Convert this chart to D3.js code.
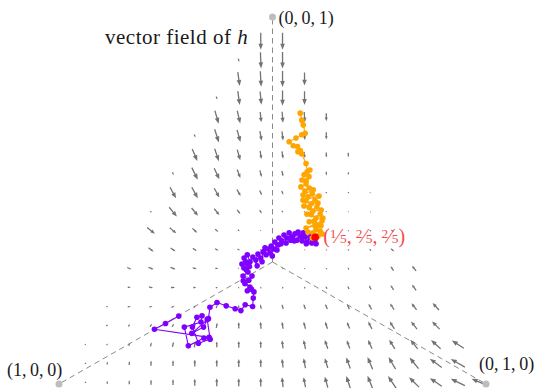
<!DOCTYPE html>
<html>
<head>
<meta charset="utf-8">
<script src="https://cdn.jsdelivr.net/npm/d3@7/dist/d3.min.js"></script>
<style>
  html, body { margin: 0; background: #fff; }
</style>
</head>
<body>
<svg id="chart" width="536" height="388" font-family="'Liberation Serif', 'Times New Roman', 'DejaVu Serif', serif"></svg>
<script>
// vertices of the simplex
const vertexPoints = [[1, 0, 0], [0, 1, 0], [0, 0, 1]];
const vertexLabels = ["(1,\u20090,\u20090)", "(0,\u20091,\u20090)", "(0,\u20090,\u20091)"];
const fixedPoint = [0.2, 0.4, 0.4];
const fixedLabel = [["1", "5"], ["2", "5"], ["2", "5"]];

// grid where h is sampled: columns u = p2 - p1, rows p3
const gridU = [-0.876, -0.774, -0.671, -0.569, -0.466, -0.364, -0.261, -0.158, -0.055, 0.047,
  0.150, 0.252, 0.355, 0.457, 0.560, 0.663, 0.765, 0.868, 0.970];
const gridC = [0.005, 0.057, 0.108, 0.160, 0.211, 0.263, 0.315, 0.366, 0.418, 0.469,
  0.521, 0.573, 0.624, 0.676, 0.727, 0.779, 0.831, 0.882, 0.934];

// h along each row: first column, then (h_u, h_3) in units of 0.001
const rowStart = [0, 0, 0, 1, 1, 2, 2, 3, 3, 3, 4, 4, 5, 5, 6, 6, 7, 7, 8];
const fieldRows = [
  [[0,5],[0,8],[0,11],[0,14],[0,16],[0,19],[0,22],[0,22],[0,24],[-5,27],[-9,27],[-14,30],[-19,33],[-24,35],[-38,33],[-47,27],[-56,22],[-66,19],[-75,19]],
  [[0,5],[0,8],[0,11],[0,14],[0,16],[0,19],[0,19],[0,22],[0,22],[-5,24],[-9,27],[-14,27],[-19,30],[-24,33],[-33,33],[-42,30],[-56,24],[-66,22]],
  [[5,3],[5,5],[5,8],[5,11],[5,14],[5,16],[0,16],[0,19],[0,19],[-5,22],[-9,24],[-14,24],[-14,22],[-19,24],[-26,25],[-34,25],[-45,24],[-56,21]],
  [[9,3],[9,5],[9,8],[9,8],[9,11],[5,14],[0,18],[-3,19],[-5,19],[-9,19],[-11,19],[-12,18],[-17,20],[-22,20],[-28,21],[-35,21]],
  [[9,0],[14,3],[14,3],[14,5],[9,5],[5,8],[0,10],[-5,12],[-6,13],[-8,14],[-9,14],[-10,14],[-14,16],[-19,17],[-24,18],[-30,19]],
  [[14,-3],[19,-3],[19,0],[14,0],[9,3],[5,3],[-3,5],[-4,5],[-5,5],[-7,7],[-7,8],[-10,11],[-14,13],[-19,16]],
  [[19,-5],[24,-5],[24,-5],[19,-3],[14,0],[5,0],[0,2],[-3,3],[-4,3],[-4,4],[-5,5],[-9,8],[-14,12],[-19,14]],
  [[24,-11],[22,-9],[18,-7],[16,-5],[12,-3],[5,0],[0,0],[-3,2],[-4,3],[-6,4],[-9,5],[-14,8]],
  [[36,-17],[30,-15],[22,-12],[15,-8],[8,-4],[4,-2],[2,0],[0,0],[-3,1],[-5,2],[-8,3],[-12,5]],
  [[5,-5],[36,-25],[30,-21],[24,-17],[15,-11],[10,-9],[6,-5],[3,-3],[0,-3],[-3,-2],[-5,0]],
  [[28,-30],[28,-30],[24,-25],[17,-18],[10,-13],[7,-10],[4,-7],[0,-5],[-3,-4],[-4,-2]],
  [[5,-8],[28,-33],[24,-30],[15,-23],[8,-18],[6,-15],[4,-12],[0,-10],[-3,-7]],
  [[24,-33],[20,-34],[14,-29],[6,-22],[5,-20],[4,-17],[0,-14],[0,-12]],
  [[5,-8],[20,-36],[16,-33],[8,-26],[5,-25],[4,-22],[0,-20]],
  [[18,-36],[14,-35],[5,-28],[4,-30],[3,-28],[0,-22]],
  [[5,-8],[9,-38],[6,-36],[0,-42],[0,-38]],
  [[9,-38],[4,-42],[0,-44],[0,-35]],
  [[5,-8],[3,-44],[0,-45]],
  [[0,-46],[0,-46]]
];

// sample paths as (p2, p3); p1 = 1 - p2 - p3
const purpleWalk = [
  [0.188,0.185],[0.167,0.165],[0.149,0.149],[0.288,0.127],[0.277,0.125],[0.251,0.104],[0.216,0.155],
  [0.248,0.169],[0.242,0.186],[0.232,0.182],[0.235,0.155],[0.271,0.111],[0.293,0.122],[0.259,0.176],
  [0.261,0.155],[0.242,0.138],[0.261,0.178],[0.249,0.209],[0.259,0.222],[0.285,0.213],[0.310,0.205],
  [0.326,0.200],[0.328,0.216],[0.348,0.211],[0.338,0.234],[0.331,0.251],[0.322,0.258],[0.314,0.254],
  [0.315,0.264],[0.291,0.281],[0.299,0.273],[0.305,0.294],[0.303,0.283],[0.284,0.294],[0.290,0.305],
  [0.283,0.311],[0.275,0.316],[0.286,0.320],[0.265,0.327],[0.279,0.327],[0.271,0.333],[0.262,0.343],
  [0.265,0.352],[0.281,0.333],[0.281,0.346],[0.303,0.322],[0.292,0.338],[0.289,0.354],[0.301,0.343],
  [0.309,0.333],[0.298,0.360],[0.309,0.352],[0.297,0.371],[0.306,0.368],[0.316,0.357],[0.325,0.349],
  [0.309,0.376],[0.320,0.368],[0.328,0.365],[0.312,0.387],[0.324,0.379],[0.329,0.382],[0.316,0.398],
  [0.327,0.390],[0.340,0.384],[0.324,0.406],[0.335,0.398],[0.347,0.392],[0.333,0.412],[0.345,0.401],
  [0.353,0.414],[0.348,0.409],[0.356,0.390],[0.361,0.392],[0.363,0.403],[0.366,0.412],[0.374,0.390],
  [0.376,0.401],[0.388,0.382],[0.387,0.387],[0.387,0.406],[0.389,0.398],[0.400,0.384],[0.411,0.382],
  [0.403,0.392],[0.400,0.400]
];
const orangeWalk = [
  [0.196,0.738],[0.209,0.719],[0.219,0.706],[0.235,0.683],[0.229,0.679],[0.220,0.670],[0.209,0.660],
  [0.224,0.649],[0.235,0.647],[0.247,0.636],[0.243,0.633],[0.255,0.627],[0.278,0.601],[0.292,0.579],
  [0.296,0.583],[0.289,0.570],[0.303,0.565],[0.302,0.554],[0.291,0.556],[0.306,0.545],[0.298,0.537],
  [0.313,0.526],[0.319,0.534],[0.331,0.529],[0.314,0.515],[0.328,0.510],[0.334,0.518],[0.353,0.512],
  [0.321,0.501],[0.329,0.499],[0.345,0.491],[0.349,0.501],[0.360,0.493],[0.331,0.485],[0.346,0.480],
  [0.359,0.471],[0.377,0.474],[0.363,0.482],[0.349,0.463],[0.360,0.461],[0.376,0.452],[0.392,0.452],
  [0.380,0.463],[0.365,0.442],[0.377,0.442],[0.384,0.431],[0.398,0.431],[0.390,0.433],[0.366,0.425],
  [0.394,0.444],[0.391,0.422],[0.403,0.417],[0.376,0.414],[0.389,0.412],[0.412,0.409],[0.405,0.403],
  [0.394,0.398],[0.400,0.400]
];

const width = 536, height = 388;
const svg = d3.select("#chart");

// p2 - p1 across, p3 up
const x = d3.scaleLinear().domain([-1, 1]).range([59, 486]);
const y = d3.scaleLinear().domain([0, 1]).range([384, 17]);
// height of the simplex plane above the origin, in screen units
const depth = d3.scaleLinear().domain([0, 1]).range([0, 122]);

function project(p) {
  const s = p[0] + p[1] + p[2];
  return [x(p[1] - p[0]), y(p[2]) - depth(1 - s)];
}
const fromWalk = d => project([1 - d[0] - d[1], d[0], d[1]]);

// dashed coordinate axes from the origin
const origin = project([0, 0, 0]);
svg.append("g").selectAll("line")
  .data(vertexPoints)
  .enter().append("line")
  .attr("x1", origin[0]).attr("y1", origin[1])
  .attr("x2", d => project(d)[0]).attr("y2", d => project(d)[1])
  .attr("stroke", "#8a8a8a")
  .attr("stroke-width", 1)
  .attr("stroke-dasharray", "5.5,4");

// vector field
const arrows = [];
fieldRows.forEach((row, j) => {
  row.forEach((h, i) => {
    const u = gridU[rowStart[j] + i], c = gridC[j];
    const cx = x(u), cy = y(c);
    const dx = x(u + h[0] * 0.001) - cx;
    const dy = y(c + h[1] * 0.001) - cy;
    arrows.push({cx, cy, dx, dy});
  });
});

function arrowPath(a) {
  const len = Math.hypot(a.dx, a.dy);
  if (len < 0.3) return "";
  const ux = a.dx / len, uy = a.dy / len;
  const sx = a.cx - a.dx / 2, sy = a.cy - a.dy / 2;
  const ex = a.cx + a.dx / 2, ey = a.cy + a.dy / 2;
  const hl = Math.min(len * 0.45, 6), hw = Math.min(hl * 0.42, 2.3);
  const bx = ex - ux * hl, by = ey - uy * hl;
  const sw = 0.65;
  return "M" + (sx - uy * sw) + "," + (sy + ux * sw) +
    "L" + (bx - uy * sw) + "," + (by + ux * sw) +
    "L" + (bx - uy * hw) + "," + (by + ux * hw) +
    "L" + ex + "," + ey +
    "L" + (bx + uy * hw) + "," + (by - ux * hw) +
    "L" + (bx + uy * sw) + "," + (by - ux * sw) +
    "L" + (sx + uy * sw) + "," + (sy - ux * sw) + "Z";
}

svg.append("g").selectAll("path")
  .data(arrows)
  .enter().append("path")
  .attr("d", arrowPath)
  .attr("fill", "#737373");

// the two sample paths
function drawWalk(data, color) {
  const pts = data.map(fromWalk);
  const g = svg.append("g");
  g.append("path")
    .attr("d", d3.line()(pts))
    .attr("fill", "none")
    .attr("stroke", color)
    .attr("stroke-width", 1.1);
  g.selectAll("circle")
    .data(pts)
    .enter().append("circle")
    .attr("cx", d => d[0]).attr("cy", d => d[1])
    .attr("r", 2.8)
    .attr("fill", color);
}
drawWalk(purpleWalk, "#7f00ff");
drawWalk(orangeWalk, "#ffa500");

// fixed point
const fp = project(fixedPoint);
svg.append("circle")
  .attr("cx", fp[0]).attr("cy", fp[1])
  .attr("r", 3.8)
  .attr("fill", "#ff0000");

const fl = svg.append("text")
  .attr("x", fp[0] + 8).attr("y", fp[1] + 6)
  .attr("font-size", 20)
  .attr("fill", "#f24a4a");
fl.append("tspan").text("(");
fixedLabel.forEach((f, i) => {
  fl.append("tspan").attr("font-size", 13.5).attr("dy", -5).text(f[0]);
  fl.append("tspan").attr("dy", 5).text("\u2044");
  fl.append("tspan").attr("font-size", 13.5).text(f[1]);
  if (i < fixedLabel.length - 1) fl.append("tspan").text(",\u2009");
});
fl.append("tspan").text(")");

// vertices
const vg = svg.append("g");
vg.selectAll("circle")
  .data(vertexPoints)
  .enter().append("circle")
  .attr("cx", d => project(d)[0]).attr("cy", d => project(d)[1])
  .attr("r", 3.5)
  .attr("fill", "#bdbdbd");

const labelPos = [[-52, -8], [-7, -14], [6, 7]];
vg.selectAll("text")
  .data(vertexPoints)
  .enter().append("text")
  .attr("x", (d, i) => project(d)[0] + labelPos[i][0])
  .attr("y", (d, i) => project(d)[1] + labelPos[i][1])
  .attr("font-size", 18)
  .attr("fill", "#1a1a1a")
  .text((d, i) => vertexLabels[i]);

// title
const title = svg.append("text")
  .attr("x", 105).attr("y", 44)
  .attr("font-size", 21)
  .attr("letter-spacing", 0.5)
  .attr("fill", "#1a1a1a");
title.append("tspan").text("vector field of ");
title.append("tspan").attr("font-style", "italic").text("h");
</script>
</body>
</html>
